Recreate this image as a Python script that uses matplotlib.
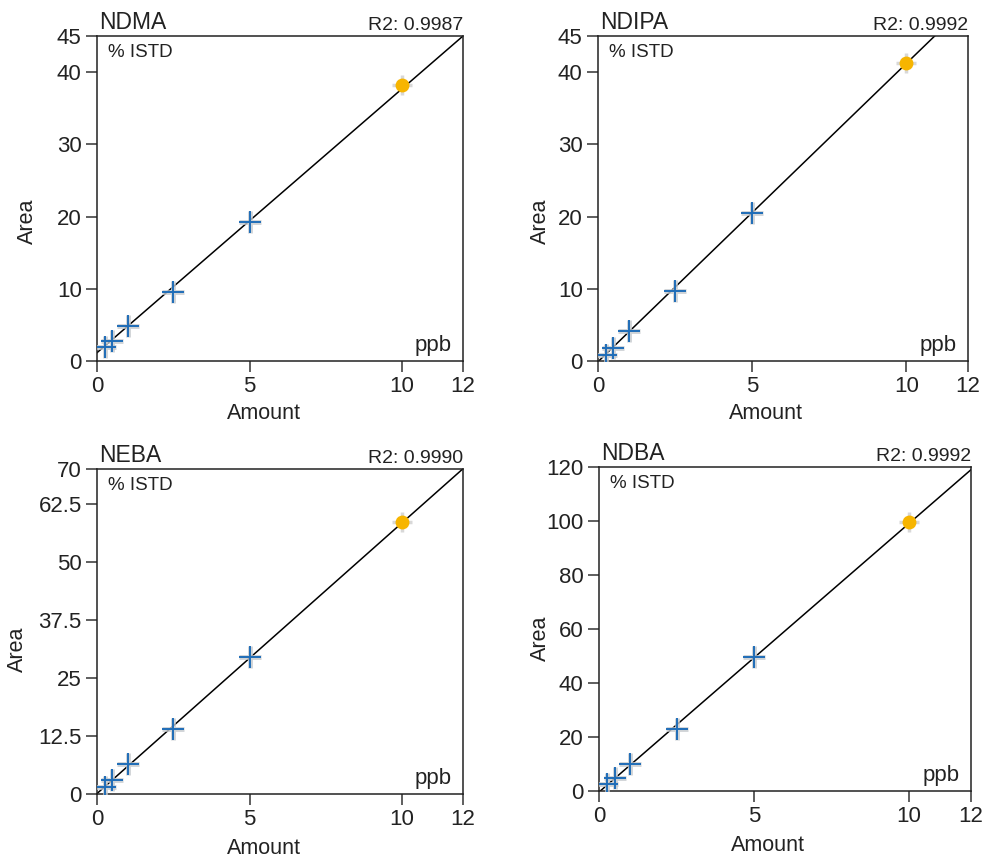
import numpy as np
import matplotlib.pyplot as plt

plt.rcParams['font.family'] = ['Liberation Sans', 'DejaVu Sans']

# calibration levels (ppb)
amounts = [0.25, 0.5, 1.0, 2.5, 5.0]
amount_hi = 10.0

names = ['NDMA', 'NDIPA', 'NEBA', 'NDBA']
r2_text = ['R2: 0.9987', 'R2: 0.9992', 'R2: 0.9990', 'R2: 0.9992']

areas = {
    'NDMA': [2.0, 2.8, 4.9, 9.6, 19.2],
    'NDIPA': [0.9, 1.8, 4.2, 9.7, 20.5],
    'NEBA': [1.5, 3.0, 6.4, 14.0, 29.5],
    'NDBA': [2.5, 5.0, 10.0, 23.0, 49.5],
}
area_hi = {'NDMA': 38.2, 'NDIPA': 41.2, 'NEBA': 58.5, 'NDBA': 99.5}

# fitted lines: intercept, slope
fits = {
    'NDMA': (1.15, 3.654),
    'NDIPA': (-0.1, 4.13),
    'NEBA': (0.1, 5.83),
    'NDBA': (-0.4, 9.95),
}

yticks = {
    'NDMA': [0, 10, 20, 30, 40, 45],
    'NDIPA': [0, 10, 20, 30, 40, 45],
    'NEBA': [0, 12.5, 25, 37.5, 50, 62.5, 70],
    'NDBA': [0, 20, 40, 60, 80, 100, 120],
}
yticklabels = {
    'NDMA': ['0', '10', '20', '30', '40', '45'],
    'NDIPA': ['0', '10', '20', '30', '40', '45'],
    'NEBA': ['0', '12.5', '25', '37.5', '50', '62.5', '70'],
    'NDBA': ['0', '20', '40', '60', '80', '100', '120'],
}
xticks = [0, 5, 10, 12]

# axes boxes in pixels (left, top, right, bottom)
W, H = 984, 857
boxes = [
    (97, 36, 463, 361),
    (598, 36, 968, 361),
    (97, 469, 463, 794),
    (599, 467, 971, 791),
]
# label anchor positions (axes fraction)
ylab_pos = [(-0.161, 0.43), (-0.127, 0.43), (-0.189, 0.445), (-0.129, 0.47)]
xlab_pos = [(0.456, -0.128), (0.455, -0.128), (0.456, -0.135), (0.455, -0.135)]

fig = plt.figure(figsize=(9.84, 8.57), dpi=100)
txt = '#222222'
blue = '#1f6db8'
gold = '#f7b500'

for i, (name, r2, (x0, y0, x1, y1)) in enumerate(zip(names, r2_text, boxes)):
    ax = fig.add_axes([x0 / W, 1 - y1 / H, (x1 - x0) / W, (y1 - y0) / H])
    ymax = yticks[name][-1]
    ax.set_xlim(0, 12)
    ax.set_ylim(0, ymax)

    b, m = fits[name]
    xs = np.array([0, 12])
    ax.plot(xs, b + m * xs, color='black', linewidth=1.1, zorder=2)

    # replicate shadows then mean markers
    ax.plot(amounts, areas[name], linestyle='none', marker='+', markersize=16,
            markeredgewidth=3.5, color='#c4c8cc', alpha=0.8, zorder=3)
    ax.plot(amounts, areas[name], linestyle='none', marker='+', markersize=16,
            markeredgewidth=1.4, color=blue, zorder=4)

    # highlighted top level
    ax.plot([amount_hi], [area_hi[name]], linestyle='none', marker='+', markersize=14,
            markeredgewidth=2.5, color='#d8d8d8', zorder=3)
    ax.plot([amount_hi], [area_hi[name]], linestyle='none', marker='o', markersize=10,
            color=gold, markeredgewidth=0, zorder=4)

    ax.set_xticks(xticks)
    ax.set_xticklabels([str(t) for t in xticks])
    ax.set_yticks(yticks[name])
    ax.set_yticklabels(yticklabels[name])
    ax.tick_params(direction='out', length=8, width=1.1, labelsize=16,
                   labelcolor=txt, color='#333333', pad=3)
    for sp in ax.spines.values():
        sp.set_linewidth(1.1)
        sp.set_color('#222222')

    ax.set_xlabel('Amount', fontsize=15.5, color=txt)
    ax.set_ylabel('Area', fontsize=15.5, color=txt)
    ax.xaxis.set_label_coords(*xlab_pos[i])
    ax.yaxis.set_label_coords(*ylab_pos[i])

    ax.text(0.005, 1.005, name, transform=ax.transAxes, fontsize=16.5,
            color=txt, ha='left', va='bottom')
    ax.text(1.0, 1.005, r2, transform=ax.transAxes, fontsize=14,
            color=txt, ha='right', va='bottom')
    ax.text(0.03, 0.975, '% ISTD', transform=ax.transAxes, fontsize=13.5,
            color=txt, ha='left', va='top')
    ax.text(0.97, 0.015, 'ppb', transform=ax.transAxes, fontsize=16,
            color=txt, ha='right', va='bottom')

fig.savefig('out.png', dpi=100)
